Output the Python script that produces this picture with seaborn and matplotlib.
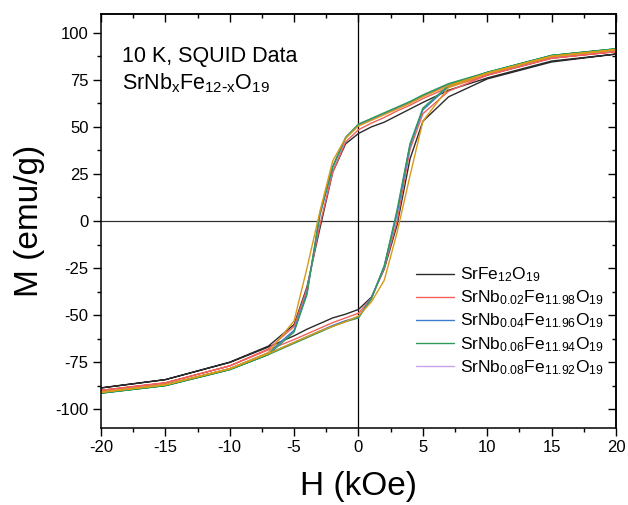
import matplotlib
matplotlib.use("Agg")
import matplotlib.pyplot as plt
import seaborn as sns
import pandas as pd
from matplotlib.ticker import MultipleLocator

# field grid (kOe): descending branch then ascending branch
H_down = [20, 15, 10, 7, 5, 4, 3, 2, 1, 0, -1, -2, -3, -4, -5, -7, -10, -15, -20]
H_up = [-20, -15, -10, -7, -5, -4, -3, -2, -1, 0, 1, 2, 3, 4, 5, 7, 10, 15, 20]

# magnetisation (emu/g)
m00_down = [88.7, 85.0, 76.0, 69.5, 63.0, 59.5, 56.0, 52.5, 50.0, 46.5, 41.0, 26.0, -4.0, -35.0, -55.0, -66.5, -75.0, -84.3, -88.7]
m00_up = [-88.7, -84.3, -75.2, -67.0, -61.0, -57.5, -54.5, -51.5, -49.5, -47.0, -40.5, -25.5, -2.0, 33.0, 53.0, 66.0, 75.5, 84.5, 88.7]
m02_down = [90.0, 86.5, 77.5, 71.0, 65.0, 61.5, 58.5, 55.0, 52.0, 48.5, 42.0, 26.0, -2.0, -36.0, -56.0, -68.0, -77.0, -86.0, -90.0]
m02_up = [-90.0, -86.0, -77.0, -68.5, -63.0, -60.0, -57.0, -54.0, -51.5, -49.0, -41.0, -25.0, 0.0, 38.0, 57.0, 69.0, 77.5, 86.5, 90.0]
m04_down = [91.0, 87.5, 78.5, 72.5, 66.5, 63.0, 60.0, 57.0, 54.0, 51.0, 44.0, 28.5, 3.0, -38.0, -58.0, -70.0, -78.5, -87.0, -91.0]
m04_up = [-91.0, -87.0, -78.5, -70.5, -64.5, -61.5, -58.5, -55.5, -53.0, -51.0, -41.0, -24.0, 4.0, 40.0, 59.0, 71.5, 78.5, 87.5, 91.0]
m06_down = [91.5, 88.0, 79.0, 73.0, 67.0, 63.5, 60.5, 57.5, 54.5, 51.5, 44.5, 29.0, 4.0, -39.0, -59.0, -71.0, -79.0, -87.5, -91.5]
m06_up = [-91.5, -87.5, -79.0, -71.0, -65.0, -62.0, -59.0, -56.0, -53.5, -51.5, -41.5, -24.0, 6.0, 41.0, 60.0, 72.0, 79.0, 88.0, 91.5]
m08_down = [91.2, 87.8, 78.8, 72.8, 66.8, 63.2, 60.2, 57.2, 54.2, 51.2, 44.2, 28.8, 3.5, -38.5, -58.5, -70.5, -78.8, -87.2, -91.2]
m08_up = [-91.2, -87.2, -78.8, -70.8, -64.8, -61.8, -58.8, -55.8, -53.2, -51.2, -41.2, -24.0, 5.0, 40.5, 59.5, 71.8, 78.8, 87.8, 91.2]
mx_down = [91.0, 87.5, 78.5, 72.0, 66.0, 62.5, 59.5, 56.5, 53.5, 50.5, 44.0, 32.0, 5.0, -25.0, -53.0, -70.0, -78.5, -87.0, -91.0]
mx_up = [-91.0, -87.0, -78.5, -70.5, -64.5, -61.5, -58.5, -56.0, -53.5, -50.5, -43.0, -31.5, -6.0, 24.0, 53.0, 71.0, 78.5, 87.5, 91.0]

labels = [r"SrFe$_{12}$O$_{19}$",
          r"SrNb$_{0.02}$Fe$_{11.98}$O$_{19}$",
          r"SrNb$_{0.08}$Fe$_{11.92}$O$_{19}$",
          r"SrNb$_{0.04}$Fe$_{11.96}$O$_{19}$",
          r"SrNb$_{0.06}$Fe$_{11.94}$O$_{19}$",
          "extra"]
colors = ["#2b2b2b", "#f2605c", "#c9a3ea", "#3d7bcc", "#2f9a5c", "#d99a17"]
series = [(m00_down, m00_up), (m02_down, m02_up), (m08_down, m08_up),
          (m04_down, m04_up), (m06_down, m06_up), (mx_down, mx_up)]

rows = []
for lab, (down, up) in zip(labels, series):
    for h, m in zip(H_down + H_up, down + up):
        rows.append({"H": h, "M": m, "sample": lab})
df = pd.DataFrame(rows)

sns.set_style("ticks")
plt.rcParams["font.family"] = ["Liberation Sans", "DejaVu Sans"]
plt.rcParams["mathtext.default"] = "regular"
plt.rcParams["axes.unicode_minus"] = False
plt.rcParams["text.color"] = "black"
plt.rcParams["axes.labelcolor"] = "black"

fig = plt.figure(figsize=(6.28, 5.05), dpi=100)
ax = fig.add_axes([0.1608, 0.1525, 0.8201, 0.8198])

ax.axhline(0, color="#333333", lw=0.9, zorder=1)
ax.axvline(0, color="black", lw=0.9, zorder=1)

sns.lineplot(data=df, x="H", y="M", hue="sample", palette=dict(zip(labels, colors)),
             sort=False, estimator=None, lw=1.0, ax=ax)

ax.set_xlim(-20, 20)
ax.set_ylim(-110, 110)
ax.xaxis.set_major_locator(MultipleLocator(5))
ax.xaxis.set_minor_locator(MultipleLocator(2.5))
ax.yaxis.set_major_locator(MultipleLocator(25))
ax.yaxis.set_minor_locator(MultipleLocator(12.5))
ax.tick_params(which="major", direction="out", length=5.5, width=1, pad=3.5,
               labelsize=12, colors="black")
ax.tick_params(which="minor", direction="out", length=3, width=1, colors="black")
for s in ax.spines.values():
    s.set_linewidth(1.1)
    s.set_color("black")

# inward ticks on the mirrored top / right edges
top = ax.secondary_xaxis("top")
top.xaxis.set_major_locator(MultipleLocator(5))
top.xaxis.set_minor_locator(MultipleLocator(2.5))
top.tick_params(which="major", direction="in", length=5.5, width=1, labeltop=False, colors="black")
top.tick_params(which="minor", direction="in", length=3, width=1, colors="black")
right = ax.secondary_yaxis("right")
right.yaxis.set_major_locator(MultipleLocator(25))
right.yaxis.set_minor_locator(MultipleLocator(12.5))
right.tick_params(which="major", direction="in", length=5.5, width=1, labelright=False, colors="black")
right.tick_params(which="minor", direction="in", length=3, width=1, colors="black")
for sec in (top, right):
    for s in sec.spines.values():
        s.set_linewidth(1.1)
        s.set_color("black")

ax.set_xlabel("H (kOe)", fontsize=24)
ax.set_ylabel("M (emu/g)", fontsize=24)
ax.xaxis.set_label_coords(0.5, -0.105)
ax.yaxis.set_label_coords(-0.108, 0.5)

ax.text(0.041, 0.883, "10 K, SQUID Data", transform=ax.transAxes, fontsize=15.5, va="baseline")
ax.text(0.041, 0.818, r"SrNb$_x$Fe$_{12\text{-}x}$O$_{19}$",
        transform=ax.transAxes, fontsize=15.5, va="baseline")

handles, labs = ax.get_legend_handles_labels()
order = [0, 1, 3, 4, 2]
ax.legend([handles[i] for i in order], [labs[i] for i in order], loc="upper left",
          bbox_to_anchor=(0.612, 0.392), frameon=False, fontsize=12.5,
          handlelength=2.2, handletextpad=0.35, labelspacing=0.25,
          borderaxespad=0, borderpad=0)

fig.savefig("out.png", dpi=100)
